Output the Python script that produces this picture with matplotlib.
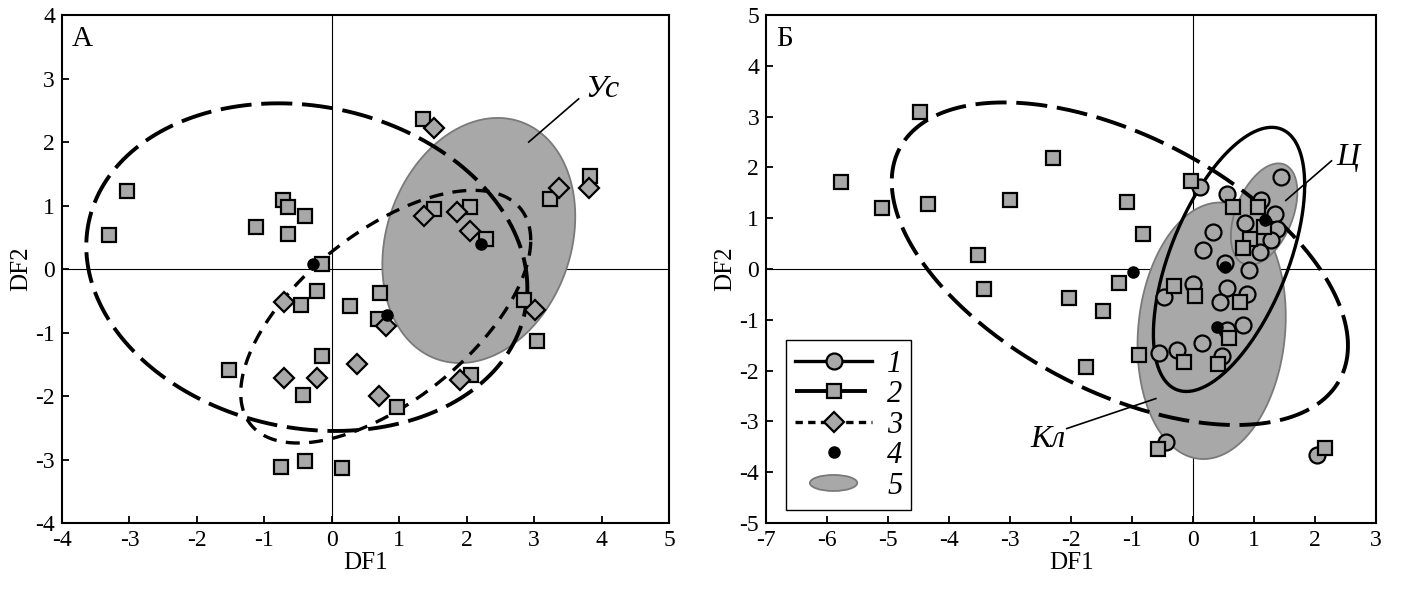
import matplotlib
matplotlib.use("Agg")
import matplotlib.pyplot as plt
import numpy as np
from matplotlib.lines import Line2D
from matplotlib.patches import Patch, Ellipse
from matplotlib.legend_handler import HandlerPatch

plt.rcParams['font.family'] = ['Liberation Serif', 'DejaVu Serif']
plt.rcParams['axes.unicode_minus'] = False

# ---- panel A ----
a_sq_x = [-3.30, -3.03, -1.13, -0.72, -0.65, -0.40, -0.65, -0.15, -0.22, 1.35, 3.83, 3.24,
          1.52, 2.05, 2.28, 0.72, 0.27, 0.68, 2.85, 3.04, -0.15, 2.06, 0.97, 0.15, -0.40,
          -0.46, -1.52, -0.43, -0.76]
a_sq_y = [0.54, 1.23, 0.67, 1.09, 0.98, 0.83, 0.55, 0.08, -0.34, 2.37, 1.47, 1.10,
          0.94, 0.98, 0.47, -0.38, -0.58, -0.79, -0.49, -1.13, -1.37, -1.67, -2.18, -3.13, -3.03,
          -0.56, -1.59, -1.98, -3.11]
a_dm_x = [1.52, 3.82, 3.37, 1.37, 1.86, 2.05, 0.81, 3.01, 0.37, -0.22, 1.90, 0.70, -0.71, -0.71]
a_dm_y = [2.22, 1.27, 1.27, 0.83, 0.90, 0.60, -0.90, -0.65, -1.50, -1.71, -1.75, -2.00, -0.52, -1.72]
a_dot_x = [-0.28, 2.21, 0.82]
a_dot_y = [0.08, 0.39, -0.72]

# ellipses: centre x, centre y, half extent in x, half extent in y, x offset of top point
a_ell_2 = (-0.37, 0.03, 3.27, 2.58, -0.42)
a_ell_3 = (0.80, -0.75, 2.15, 1.99, 1.30)
a_ell_us = (2.18, 0.45, 1.43, 1.93, 0.28)

# ---- panel B ----
b_ci_x = [0.11, 0.55, 1.11, 1.34, 1.45, 1.37, 0.85, 1.28, 1.10, 0.33, 0.17, 0.52, 0.92,
          0.00, 0.56, -0.48, 0.45, 0.88, 0.55, 0.82, 0.15, -0.26, -0.55, 0.48, -0.44, 2.03]
b_ci_y = [1.62, 1.48, 1.36, 1.08, 1.82, 0.79, 0.90, 0.57, 0.33, 0.72, 0.38, 0.11, -0.02,
          -0.29, -0.38, -0.56, -0.64, -0.50, -1.20, -1.10, -1.46, -1.59, -1.66, -1.72, -3.40, -3.67]
b_sq_x = [-4.48, -5.77, -5.10, -4.35, -2.30, -3.00, -3.53, -3.42, -2.04, -1.08, -0.82, -1.22,
          -1.48, -1.75, -0.89, -0.04, 0.66, 1.07, 1.16, 0.94, 0.82, -0.31, 0.03, 0.77, 0.59,
          -0.15, 0.41, -0.57, 2.17]
b_sq_y = [3.10, 1.71, 1.21, 1.28, 2.18, 1.35, 0.27, -0.39, -0.57, 1.32, 0.69, -0.28,
          -0.82, -1.93, -1.69, 1.74, 1.22, 1.22, 0.82, 0.59, 0.41, -0.33, -0.53, -0.65, -1.36,
          -1.83, -1.87, -3.55, -3.53]
b_dot_x = [1.18, 0.52, -0.99, 0.39]
b_dot_y = [0.97, 0.04, -0.06, -1.15]

b_ell_1 = (0.59, 0.19, 1.24, 2.60, 0.70)
b_ell_2 = (-1.20, 0.105, 3.74, 3.175, -1.90)
b_ell_kl = (0.305, -1.215, 1.215, 2.525, 0.135)
b_ell_c = (1.165, 1.08, 0.545, 1.00, 0.235)

legend_labels = ['1', '2', '3', '4', '5']

GRAY = '#a8a8a8'
EDGE_GRAY = '#7a7a7a'
LONG = dict(color='black', lw=2.8, linestyle=(0, (8, 2.5)), zorder=2)
SHORT = dict(color='black', lw=2.4, linestyle=(0, (4.2, 2.8)), zorder=2)
SOLID = dict(color='black', lw=2.4, zorder=2)
MK = dict(ls='none', mfc=GRAY, mec='black', mew=1.6, zorder=3)


def ellipse_xy(cx, cy, xh, yh, dx):
    t = np.linspace(0, 2 * np.pi, 400)
    sxy = dx * yh / xh
    x = cx + xh * np.cos(t)
    y = cy + sxy * np.cos(t) + np.sqrt(yh ** 2 - sxy ** 2) * np.sin(t)
    return x, y


def setup(ax, xlim, ylim, letter):
    ax.set_xlim(*xlim)
    ax.set_ylim(*ylim)
    ax.set_xticks(range(xlim[0], xlim[1] + 1))
    ax.set_yticks(range(ylim[0], ylim[1] + 1))
    ax.tick_params(direction='in', length=5, width=1.3, labelsize=17, pad=5,
                   top=False, right=False)
    for s in ax.spines.values():
        s.set_linewidth(1.5)
    ax.axhline(0, color='black', lw=0.8, zorder=0.5)
    ax.axvline(0, color='black', lw=0.8, zorder=0.5)
    ax.set_xlabel('DF1', fontsize=18, labelpad=1)
    ax.set_ylabel('DF2', fontsize=18, labelpad=2)
    ax.text(0.016, 0.978, letter, transform=ax.transAxes, ha='left', va='top', fontsize=21)


fig = plt.figure(figsize=(14.09, 5.91), dpi=100)
axA = fig.add_axes([0.044, 0.115, 0.4308, 0.8595])
axB = fig.add_axes([0.5437, 0.115, 0.4329, 0.8595])

# panel A
setup(axA, (-4, 5), (-4, 4), 'А')
x, y = ellipse_xy(*a_ell_us)
axA.fill(x, y, facecolor=GRAY, edgecolor=EDGE_GRAY, lw=1.3, zorder=1)
axA.plot(*ellipse_xy(*a_ell_2), **LONG)
axA.plot(*ellipse_xy(*a_ell_3), **SHORT)
axA.plot(a_sq_x, a_sq_y, marker='s', ms=9.5, **MK)
axA.plot(a_dm_x, a_dm_y, marker='D', ms=10, **MK)
axA.plot(a_dot_x, a_dot_y, 'o', color='black', ms=8, ls='none', zorder=4)
axA.plot([2.92, 3.66], [2.00, 2.68], color='black', lw=1.2, zorder=4)
axA.text(4.01, 2.83, 'Ус', fontsize=23, style='italic', ha='center', va='center')

# panel B
setup(axB, (-7, 3), (-5, 5), 'Б')
for e in (b_ell_kl, b_ell_c):
    x, y = ellipse_xy(*e)
    axB.fill(x, y, facecolor=GRAY, edgecolor=EDGE_GRAY, lw=1.3, zorder=1)
axB.plot(*ellipse_xy(*b_ell_2), **LONG)
axB.plot(*ellipse_xy(*b_ell_1), **SOLID)
axB.plot(b_ci_x, b_ci_y, marker='o', ms=11.5, **MK)
axB.plot(b_sq_x, b_sq_y, marker='s', ms=9.5, **MK)
axB.plot(b_dot_x, b_dot_y, 'o', color='black', ms=8, ls='none', zorder=4)
axB.plot([1.52, 2.27], [1.35, 2.13], color='black', lw=1.2, zorder=4)
axB.text(2.54, 2.20, 'Ц', fontsize=23, style='italic', ha='center', va='center')
axB.plot([-2.07, -0.61], [-3.14, -2.55], color='black', lw=1.2, zorder=4)
axB.text(-2.37, -3.35, 'Кл', fontsize=23, style='italic', ha='center', va='center')


def ellipse_handle(legend, orig_handle, xdescent, ydescent, width, height, fontsize):
    return Ellipse((width / 2 - xdescent, height / 2 - ydescent), width * 0.62, height * 0.75)


handles = [
    Line2D([], [], color='black', lw=2.4, marker='o', ms=11.5, mfc=GRAY, mec='black', mew=1.6),
    Line2D([], [], color='black', lw=2.8, linestyle=(0, (8, 2.5)), marker='s', ms=9.5,
           mfc=GRAY, mec='black', mew=1.6),
    Line2D([], [], color='black', lw=2.4, linestyle=(0, (2.2, 1.6)), marker='D', ms=10,
           mfc=GRAY, mec='black', mew=1.6),
    Line2D([], [], ls='none', marker='o', ms=8, color='black'),
    Patch(facecolor=GRAY, edgecolor=EDGE_GRAY, lw=1.3),
]
leg = axB.legend(handles, legend_labels, loc='lower left', bbox_to_anchor=(0.033, 0.026),
                 borderaxespad=0, fancybox=False, framealpha=1, edgecolor='black',
                 prop=dict(style='italic', size=22), handlelength=2.5, handletextpad=0.5,
                 labelspacing=0.05, borderpad=0.3, numpoints=1,
                 handler_map={Patch: HandlerPatch(patch_func=ellipse_handle)})
leg.get_frame().set_linewidth(1.0)

fig.savefig('out.png', dpi=100)
